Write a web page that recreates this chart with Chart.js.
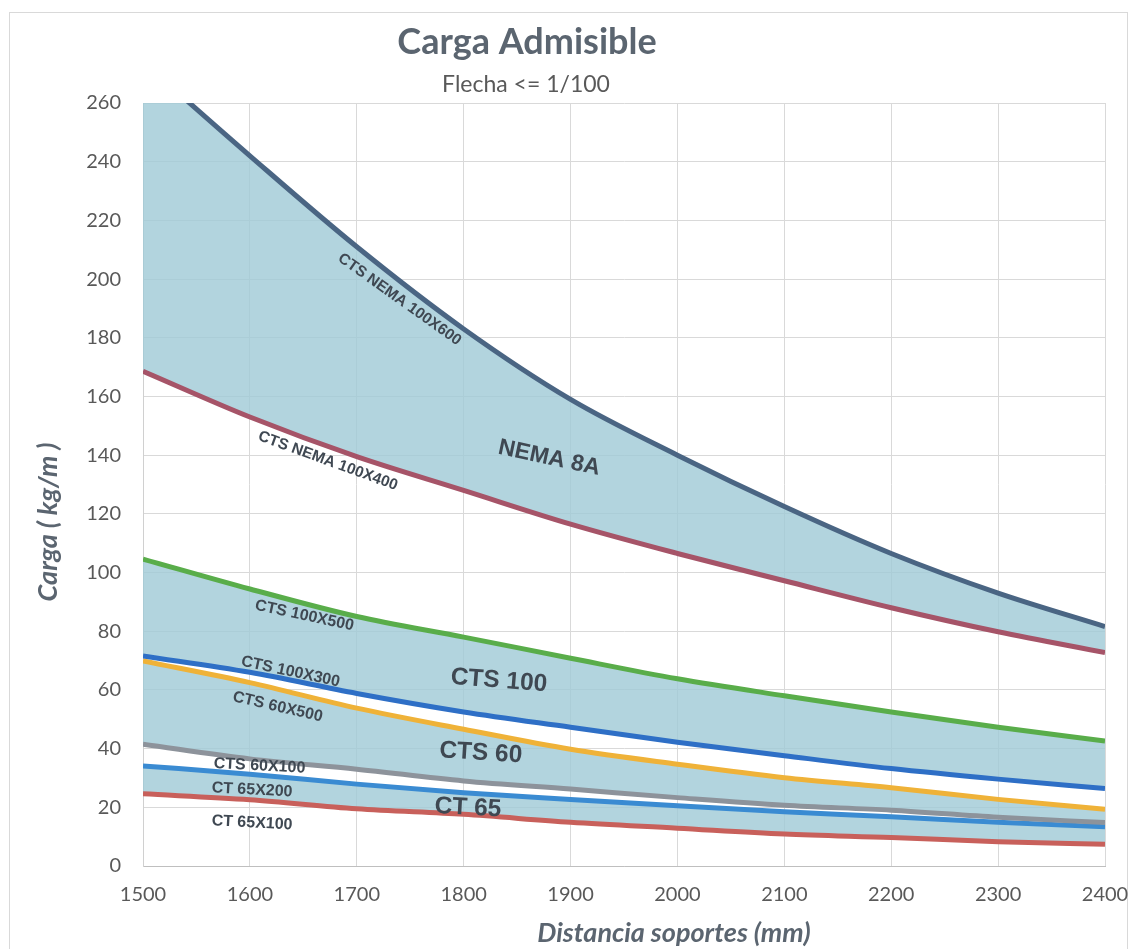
<!DOCTYPE html>
<html>
<head>
<meta charset="utf-8">
<script src="https://cdn.jsdelivr.net/npm/chart.js@4.4.1/dist/chart.umd.min.js"></script>
<style>
  html, body { margin: 0; padding: 0; background: #ffffff; }
  canvas { display: block; }
</style>
</head>
<body>
<canvas id="chart" width="1135" height="949" style="width:1135px;height:949px"></canvas>
<script>
// ---- Data ----
const distances = [1500, 1600, 1700, 1800, 1900, 2000, 2100, 2200, 2300, 2400];
const ctsNema100x600 = [274, 242, 211, 183, 159, 140, 122.5, 106.5, 93, 81.6];
const ctsNema100x400 = [168.6, 153, 139.5, 128, 116.5, 106.5, 97.2, 88, 79.8, 72.7];
const cts100x500 = [104.6, 94.4, 85, 78, 70.8, 63.8, 58, 52.5, 47.3, 42.6];
const cts100x300 = [71.6, 66, 58.8, 52.5, 47.3, 42.2, 37.6, 33.2, 29.6, 26.4];
const cts60x500 = [69.9, 62.5, 53.8, 46.6, 39.8, 34.7, 30.1, 26.7, 22.7, 19.3];
const cts60x100 = [41.5, 36.5, 33, 29, 26.2, 23.3, 20.7, 19.0, 16.6, 14.8];
const ct65x200 = [34.1, 31.3, 27.9, 25, 22.7, 20.5, 18.5, 16.8, 14.9, 13.4];
const ct65x100 = [24.6, 22.6, 19.5, 17.6, 14.9, 12.9, 10.9, 9.7, 8.3, 7.4];
const yTickValues = [0, 20, 40, 60, 80, 100, 120, 140, 160, 180, 200, 220, 240, 260];
const xTickValues = distances;

const titleText = 'Carga Admisible';
const subtitleText = 'Flecha <= 1/100';
const xAxisTitle = 'Distancia soportes (mm)';
const yAxisTitle = 'Carga ( kg/m )';

// ---- Styling ----
const fillColor = 'rgba(159,201,214,0.8)';
const textDark = '#3f4852';
const slate = '#5b6570';

function pts(arr) { return distances.map((d, i) => ({ x: d, y: arr[i] })); }

function ds(label, arr, color, width, fillTarget) {
  return {
    label: label,
    data: pts(arr),
    borderColor: color,
    backgroundColor: fillColor,
    borderWidth: width,
    pointRadius: 0,
    cubicInterpolationMode: 'monotone',
    fill: fillTarget === null ? false : { target: fillTarget, above: fillColor, below: fillColor }
  };
}

// Curve-name annotations, positioned in data coordinates
const curveLabels = [
  { text: 'CTS NEMA 100X600', x: 1740, y: 193, angle: 35.5, size: 15.5 },
  { text: 'CTS NEMA 100X400', x: 1673, y: 138, angle: 20, size: 15.5 },
  { text: 'NEMA 8A', x: 1880, y: 139, angle: 12, size: 23 },
  { text: 'CTS 100X500', x: 1651, y: 85.3, angle: 12, size: 16 },
  { text: 'CTS 100X300', x: 1638, y: 66.2, angle: 12, size: 16 },
  { text: 'CTS 60X500', x: 1626, y: 54.2, angle: 13, size: 16 },
  { text: 'CTS 100', x: 1833, y: 63.1, angle: 4.5, size: 24.5 },
  { text: 'CTS 60', x: 1816, y: 38.5, angle: 3.5, size: 24.5 },
  { text: 'CTS 60X100', x: 1609, y: 34.1, angle: 3, size: 16 },
  { text: 'CT 65X200', x: 1602, y: 25.9, angle: 3, size: 16 },
  { text: 'CT 65X100', x: 1602, y: 14.7, angle: 3, size: 16 },
  { text: 'CT 65', x: 1804, y: 19.8, angle: 3, size: 24.5 }
];

const decorPlugin = {
  id: 'decor',
  beforeDraw(chart) {
    const c = chart.ctx;
    c.save();
    c.fillStyle = '#ffffff';
    c.fillRect(0, 0, chart.width, chart.height);
    c.strokeStyle = '#d9d9d9';
    c.lineWidth = 1;
    c.strokeRect(9.5, 12.5, 1118, 960);
    c.restore();
  },
  afterDatasetsDraw(chart) {
    const c = chart.ctx;
    const xs = chart.scales.x, ys = chart.scales.y;
    c.save();
    c.textAlign = 'center';
    c.textBaseline = 'middle';
    curveLabels.forEach(l => {
      c.save();
      c.translate(xs.getPixelForValue(l.x), ys.getPixelForValue(l.y));
      c.rotate(l.angle * Math.PI / 180);
      c.font = 'bold ' + l.size + 'px "Liberation Sans", Arial, sans-serif';
      c.fillStyle = textDark;
      c.fillText(l.text, 0, 0);
      c.restore();
    });
    c.restore();
  },
  afterDraw(chart) {
    const c = chart.ctx;
    c.save();
    c.textAlign = 'center';
    c.textBaseline = 'middle';
    c.fillStyle = slate;
    c.font = 'bold 36px Lato, sans-serif';
    c.fillText(titleText, 527, 42);
    c.fillStyle = '#595959';
    c.font = '23px Lato, sans-serif';
    c.fillText(subtitleText, 526, 85);
    c.fillStyle = slate;
    c.font = 'italic bold 27px Lato, sans-serif';
    c.fillText(xAxisTitle, 674, 933);
    c.save();
    c.translate(48, 522);
    c.rotate(-Math.PI / 2);
    c.font = 'italic bold 27px Lato, sans-serif';
    c.fillText(yAxisTitle, 0, 0);
    c.restore();
    c.restore();
  }
};

const ctx = document.getElementById('chart').getContext('2d');
new Chart(ctx, {
  type: 'line',
  data: {
    datasets: [
      ds('CTS NEMA 100X600', ctsNema100x600, '#4a6583', 5, 1),
      ds('CTS NEMA 100X400', ctsNema100x400, '#a65468', 5, null),
      ds('CTS 100X500', cts100x500, '#59ad4a', 5, 3),
      ds('CTS 100X300', cts100x300, '#2e6fc6', 5, null),
      ds('CTS 60X500', cts60x500, '#efb238', 5, 5),
      ds('CTS 60X100', cts60x100, '#8d939b', 5, null),
      ds('CT 65X200', ct65x200, '#3a8bd2', 5, 7),
      ds('CT 65X100', ct65x100, '#c8605b', 5, null)
    ]
  },
  options: {
    responsive: false,
    animation: false,
    devicePixelRatio: 1,
    layout: { padding: { top: 103, right: 30, bottom: 0, left: 0 } },
    plugins: {
      legend: { display: false },
      title: { display: false },
      tooltip: { enabled: false },
      filler: { drawTime: 'beforeDatasetsDraw' }
    },
    scales: {
      x: {
        type: 'linear',
        min: 1500,
        max: 2400,
        afterBuildTicks: s => { s.ticks = xTickValues.map(v => ({ value: v })); },
        afterFit: s => { s.height = 83; s.paddingLeft = 0; s.paddingRight = 0; },
        ticks: {
          color: '#595959',
          font: { family: 'Lato', size: 20 },
          padding: 17,
          maxRotation: 0,
          callback: v => String(v)
        },
        grid: { color: '#d9d9d9', lineWidth: 1, drawTicks: false },
        border: { color: '#bfbfbf', width: 1 }
      },
      y: {
        min: 0,
        max: 260,
        afterBuildTicks: s => { s.ticks = yTickValues.map(v => ({ value: v })); },
        afterFit: s => { s.width = 143; s.paddingTop = 0; s.paddingBottom = 0; },
        ticks: {
          color: '#595959',
          font: { family: 'Lato', size: 20 },
          padding: 22,
          callback: v => String(v)
        },
        grid: { color: '#d9d9d9', lineWidth: 1, drawTicks: false },
        border: { color: '#d0d0d0', width: 1 }
      }
    }
  },
  plugins: [decorPlugin]
});
</script>
</body>
</html>
